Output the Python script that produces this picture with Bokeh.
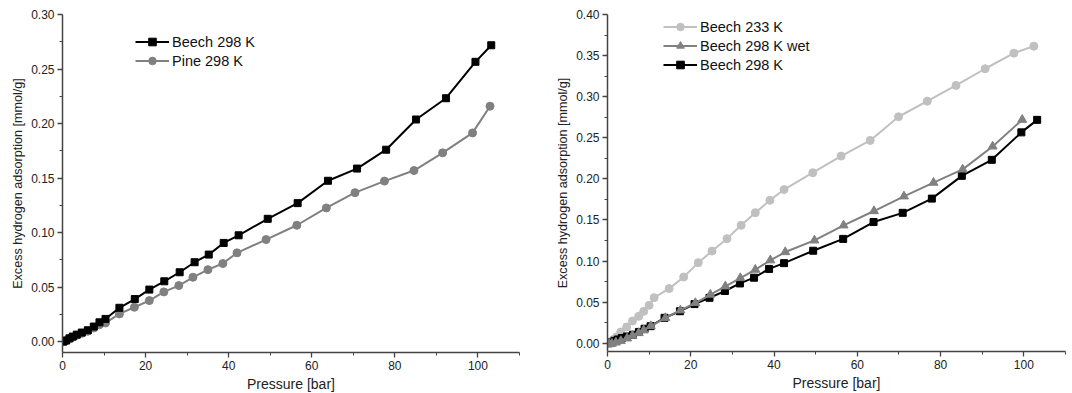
from bokeh.plotting import figure
from bokeh.layouts import row
from bokeh.models import FixedTicker, PrintfTickFormatter, Range1d, Legend, LegendItem
from bokeh.embed import file_html
from bokeh.resources import INLINE

# ---- data ----
beech298_p = [0.24, 0.88, 1.68, 2.48, 3.45, 4.65, 6.1, 7.54, 8.9, 10.35, 13.7, 17.4, 20.9, 24.5,
              28.2, 31.8, 35.2, 38.8, 42.4, 49.4, 56.6, 63.9, 70.9, 77.9, 85.1, 92.3, 99.4, 103.2]
beech298_v = [0.0, 0.001, 0.003, 0.0046, 0.0064, 0.0083, 0.0104, 0.0138, 0.0177, 0.0208, 0.031,
              0.039, 0.0477, 0.0553, 0.0636, 0.0728, 0.0798, 0.0905, 0.0975, 0.1126, 0.127, 0.1475,
              0.1587, 0.176, 0.2037, 0.2232, 0.2566, 0.2718]

pine298_p = [0.3, 0.9, 1.7, 2.5, 3.5, 4.7, 6.1, 7.5, 8.9, 10.35, 13.7, 17.3, 20.9, 24.4, 28.0,
             31.4, 35.0, 38.6, 42.0, 49.0, 56.4, 63.5, 70.4, 77.5, 84.6, 91.5, 98.7, 102.9]
pine298_v = [0.0, 0.001, 0.0025, 0.004, 0.0058, 0.0076, 0.0095, 0.0125, 0.0155, 0.0171, 0.0254,
             0.0315, 0.0376, 0.0456, 0.0514, 0.059, 0.066, 0.0716, 0.0814, 0.0936, 0.1067, 0.1226,
             0.1366, 0.1472, 0.1569, 0.1731, 0.1914, 0.2159]

beech233_p = [0.0, 0.65, 1.37, 2.2, 3.2, 4.6, 6.0, 7.5, 8.7, 10.0, 11.2, 14.8, 18.3, 21.8, 25.1,
              28.7, 32.1, 35.5, 39.0, 42.4, 49.3, 56.1, 63.1, 69.9, 76.8, 83.7, 90.7, 97.6, 102.4]
beech233_v = [0.0, 0.0016, 0.0045, 0.0077, 0.0137, 0.0198, 0.0271, 0.0328, 0.0389, 0.0462, 0.0555,
              0.0665, 0.0806, 0.0981, 0.1122, 0.1273, 0.1435, 0.1589, 0.1739, 0.187, 0.2075, 0.2277,
              0.2468, 0.2756, 0.2946, 0.3137, 0.334, 0.353, 0.3615]

beechwet_p = [0.4, 1.05, 2.0, 3.2, 4.7, 6.0, 7.5, 8.7, 10.4, 13.9, 17.5, 21.1, 24.7, 28.3, 31.9,
              35.5, 39.1, 42.7, 49.7, 56.7, 64.0, 71.2, 78.3, 85.3, 92.5, 99.6]
beechwet_v = [-0.001, -0.0004, 0.001, 0.0028, 0.006, 0.0094, 0.0125, 0.0158, 0.021, 0.0308, 0.0401,
              0.049, 0.0592, 0.0693, 0.0794, 0.0896, 0.101, 0.111, 0.1252, 0.1435, 0.1609, 0.1788,
              0.1954, 0.2116, 0.2395, 0.272]

x_ticks = [0, 20, 40, 60, 80, 100]
x_minor = [10, 30, 50, 70, 90, 110]
left_y_ticks = [0.0, 0.05, 0.10, 0.15, 0.20, 0.25, 0.30]
left_y_minor = [0.025, 0.075, 0.125, 0.175, 0.225, 0.275]
right_y_ticks = [0.0, 0.05, 0.10, 0.15, 0.20, 0.25, 0.30, 0.35, 0.40]
right_y_minor = [0.025, 0.075, 0.125, 0.175, 0.225, 0.275, 0.325, 0.375]

FONT = "Liberation Sans"
AXIS_COLOR = "#444444"


def style(p, yt, ym):
    p.xaxis.ticker = FixedTicker(ticks=x_ticks, minor_ticks=x_minor)
    p.yaxis.ticker = FixedTicker(ticks=yt, minor_ticks=ym)
    p.yaxis.formatter = PrintfTickFormatter(format="%.2f")
    p.xgrid.visible = False
    p.ygrid.visible = False
    p.outline_line_color = None
    for ax in (p.xaxis, p.yaxis):
        ax.axis_line_color = AXIS_COLOR
        ax.axis_line_width = 1.5
        ax.major_tick_line_color = AXIS_COLOR
        ax.minor_tick_line_color = AXIS_COLOR
        ax.major_tick_line_width = 1.3
        ax.minor_tick_line_width = 1.0
        ax.major_tick_out = 5
        ax.major_tick_in = 0
        ax.minor_tick_out = 3
        ax.minor_tick_in = 0
        ax.major_label_text_font = FONT
        ax.major_label_text_font_size = "12px"
        ax.major_label_text_color = "#222222"
        ax.major_label_standoff = 3
        ax.axis_label_text_font = FONT
        ax.axis_label_text_font_style = "normal"
        ax.axis_label_text_color = "#222222"
        ax.axis_label_standoff = 3
    p.xaxis.axis_label_text_font_size = "14px"
    p.yaxis.axis_label_text_font_size = "12.6px"
    p.xaxis.axis_label = "Pressure [bar]"
    p.yaxis.axis_label = "Excess hydrogen adsorption [mmol/g]"


def make_legend(p, items, x, y):
    lg = Legend(items=items, location=(x, y), padding=0, margin=0, spacing=0,
                glyph_width=34, glyph_height=19, label_height=19, label_standoff=3,
                label_text_font=FONT, label_text_font_size="14.5px", label_text_color="#111111",
                border_line_color=None, background_fill_alpha=0)
    p.add_layout(lg, "center")


# ---- left chart ----
p1 = figure(frame_width=457, frame_height=338, output_backend="svg", toolbar_location=None,
            x_range=Range1d(0, 110), y_range=Range1d(-0.01, 0.30),
            min_border_left=62, min_border_right=33, min_border_top=14, min_border_bottom=30)
style(p1, left_y_ticks, left_y_minor)
l2 = p1.line(pine298_p, pine298_v, line_color="#808080", line_width=2)
s2 = p1.scatter(pine298_p, pine298_v, marker="circle", size=8, color="#808080")
l1 = p1.line(beech298_p, beech298_v, line_color="black", line_width=2)
s1 = p1.scatter(beech298_p, beech298_v, marker="square", size=7, color="black")
make_legend(p1, [LegendItem(label="Beech 298 K", renderers=[l1, s1]),
                 LegendItem(label="Pine 298 K", renderers=[l2, s2])], 73, 282)

# ---- right chart ----
p2 = figure(frame_width=458, frame_height=337, output_backend="svg", toolbar_location=None,
            x_range=Range1d(0, 110), y_range=Range1d(-0.01, 0.40),
            min_border_left=55, min_border_right=4, min_border_top=13, min_border_bottom=30)
style(p2, right_y_ticks, right_y_minor)
la = p2.line(beech233_p, beech233_v, line_color="#c0c0c0", line_width=2)
sa = p2.scatter(beech233_p, beech233_v, marker="circle", size=8, color="#c0c0c0")
lc = p2.line(beech298_p, beech298_v, line_color="black", line_width=2)
sc = p2.scatter(beech298_p, beech298_v, marker="square", size=7, color="black")
lb = p2.line(beechwet_p, beechwet_v, line_color="#808080", line_width=2)
sb = p2.scatter(beechwet_p, beechwet_v, marker="triangle", size=9, color="#808080")
make_legend(p2, [LegendItem(label="Beech 233 K", renderers=[la, sa]),
                 LegendItem(label="Beech 298 K wet", renderers=[lb, sb]),
                 LegendItem(label="Beech 298 K", renderers=[lc, sc])], 56, 277)

layout = row(p1, p2)
open("out.html", "w").write(file_html(layout, INLINE))
